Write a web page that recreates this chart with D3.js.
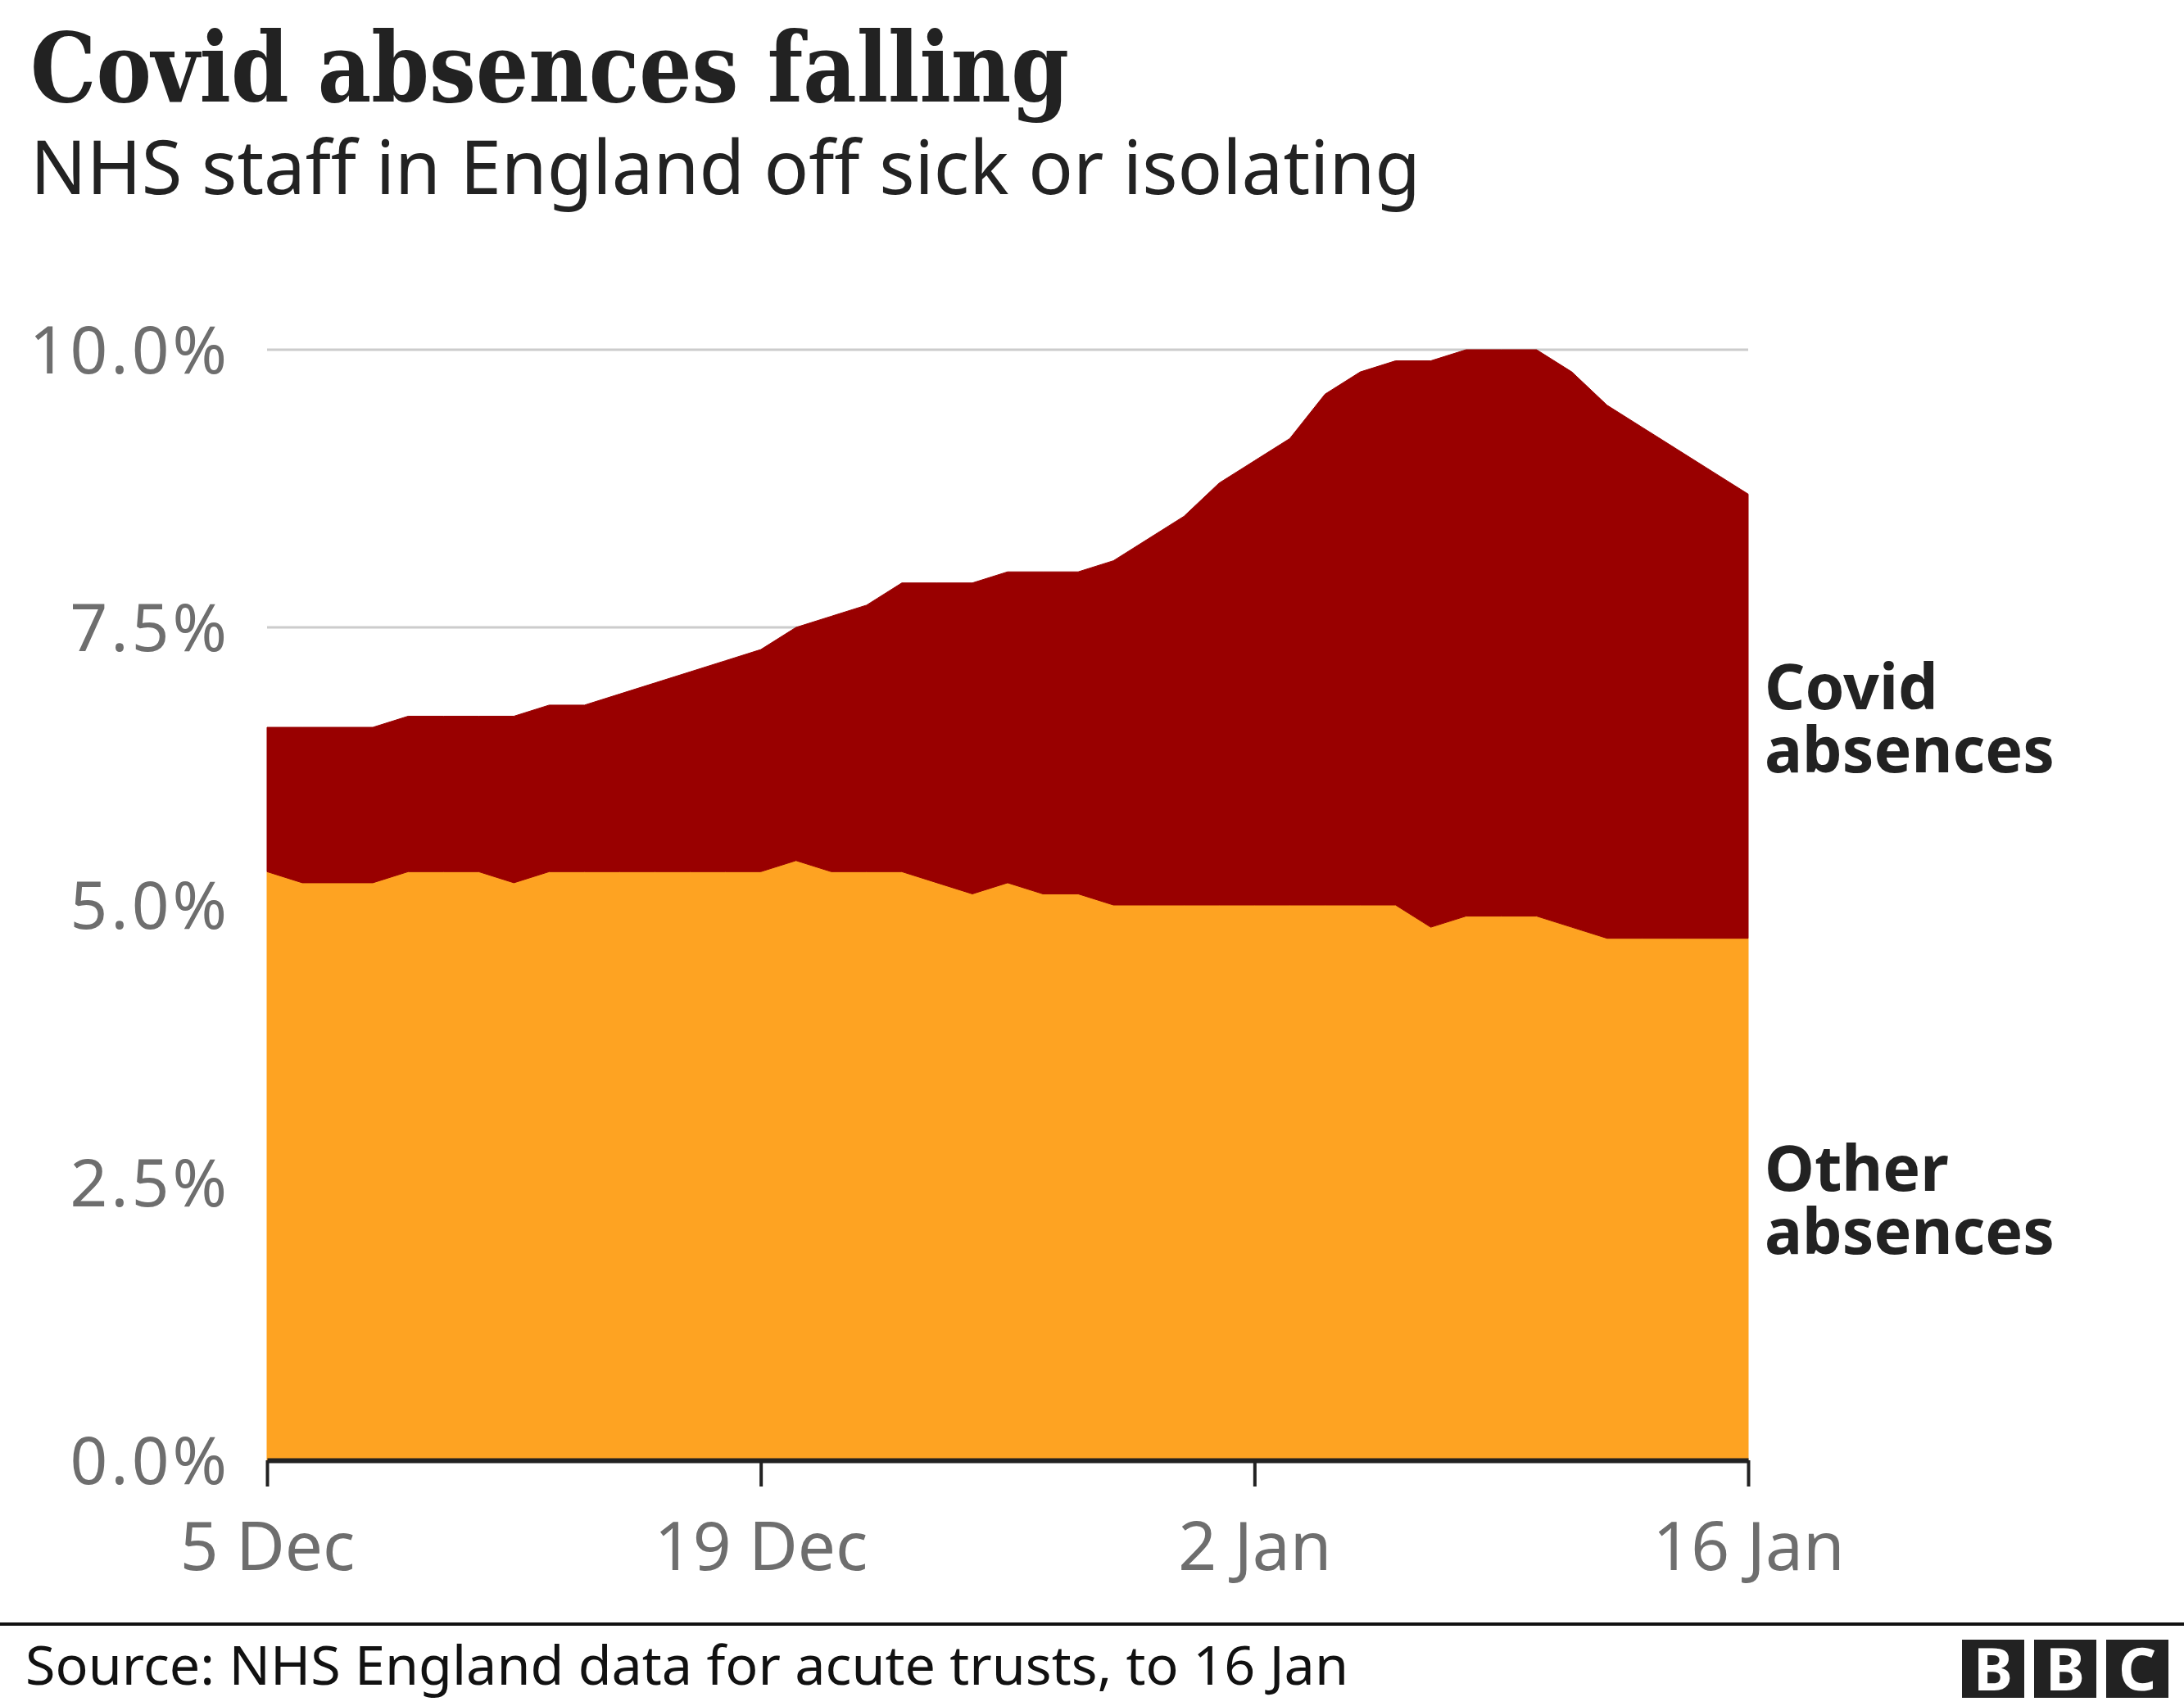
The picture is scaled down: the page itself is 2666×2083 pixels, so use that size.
<!DOCTYPE html>
<html>
<head>
<meta charset="utf-8">
<script src="https://cdn.jsdelivr.net/npm/d3@7"></script>
<style>
  html, body { margin: 0; padding: 0; background: #ffffff; }
  svg { display: block; }
</style>
</head>
<body>
<svg id="chart" width="2666" height="2083"></svg>
<script>
// ---------------- DATA ----------------
const startDate = new Date(2021, 11, 5);   // 5 Dec 2021
const endDate = new Date(2022, 0, 16);     // 16 Jan 2022

// Other (non-Covid) absences, % of staff, daily 5 Dec – 16 Jan
const otherAbsences = [5.3,5.2,5.2,5.2,5.3,5.3,5.3,5.2,5.3,5.3,5.3,5.3,5.3,5.3,5.3,5.4,5.3,5.3,5.3,5.2,5.1,5.2,5.1,5.1,5.0,5.0,5.0,5.0,5.0,5.0,5.0,5.0,5.0,4.8,4.9,4.9,4.9,4.8,4.7,4.7,4.7,4.7,4.7];
// Covid absences, % of staff, daily 5 Dec – 16 Jan
const covidAbsences = [1.3,1.4,1.4,1.4,1.4,1.4,1.4,1.5,1.5,1.5,1.6,1.7,1.8,1.9,2.0,2.1,2.3,2.4,2.6,2.7,2.8,2.8,2.9,2.9,3.1,3.3,3.5,3.8,4.0,4.2,4.6,4.8,4.9,5.1,5.1,5.1,5.1,5.0,4.8,4.6,4.4,4.2,4.0];

const seriesKeys = ["other", "covid"];
const seriesColors = { other: "#fea322", covid: "#990000" };
const seriesLabels = { covid: ["Covid", "absences"], other: ["Other", "absences"] };
const seriesLabelY = { covid: 866, other: 1454 };

const yTicks = [0, 2.5, 5, 7.5, 10];
const xTickDates = [new Date(2021, 11, 5), new Date(2021, 11, 19), new Date(2022, 0, 2), new Date(2022, 0, 16)];
const xTickLabels = ["5 Dec", "19 Dec", "2 Jan", "16 Jan"];

const titleText = "Covid absences falling";
const subtitleText = "NHS staff in England off sick or isolating";
const sourceText = "Source: NHS England data for acute trusts, to 16 Jan";

// ---------------- BUILD ----------------
const dates = d3.timeDay.range(startDate, d3.timeDay.offset(endDate, 1));
const rows = dates.map((d, i) => ({ date: d, other: otherAbsences[i], covid: covidAbsences[i] }));

const svg = d3.select("#chart");
const W = 2666, H = 2083;
const plot = { left: 326, right: 2134, top: 427, bottom: 1783 };

const x = d3.scaleTime().domain([startDate, endDate]).range([plot.left, plot.right]);
const y = d3.scaleLinear().domain([0, 10]).range([plot.bottom, plot.top]);

const sans = "'Noto Sans', 'Open Sans', 'DejaVu Sans', sans-serif";

// Title
svg.append("text")
  .attr("x", 37).attr("y", 124)
  .attr("font-family", "'DejaVu Serif', 'Liberation Serif', serif")
  .attr("font-weight", "bold")
  .attr("font-size", 117)
  .attr("fill", "#222222")
  .attr("textLength", 1268)
  .attr("lengthAdjust", "spacingAndGlyphs")
  .text(titleText);

// Subtitle
svg.append("text")
  .attr("x", 37).attr("y", 237)
  .attr("font-family", sans)
  .attr("font-size", 91)
  .attr("fill", "#222222")
  .attr("textLength", 1697)
  .attr("lengthAdjust", "spacingAndGlyphs")
  .text(subtitleText);

// Gridlines
svg.append("g")
  .selectAll("line")
  .data(yTicks.filter(t => t > 0))
  .join("line")
  .attr("x1", plot.left).attr("x2", plot.right)
  .attr("y1", d => y(d)).attr("y2", d => y(d))
  .attr("stroke", "#cccccc")
  .attr("stroke-width", 3);

// Y axis labels
svg.append("g")
  .selectAll("text")
  .data(yTicks)
  .join("text")
  .attr("x", 281)
  .attr("y", d => y(d))
  .attr("dy", "0.36em")
  .attr("text-anchor", "end")
  .attr("font-family", sans)
  .attr("font-size", 80)
  .attr("letter-spacing", 4)
  .attr("fill", "#6e6e6e")
  .text(d => d.toFixed(1) + "%");

// Stacked areas
const stack = d3.stack().keys(seriesKeys);
const stacked = stack(rows);
const area = d3.area()
  .x(d => x(d.data.date))
  .y0(d => y(d[0]))
  .y1(d => y(d[1]))
  .curve(d3.curveLinear);

svg.append("g")
  .selectAll("path")
  .data(stacked)
  .join("path")
  .attr("d", area)
  .attr("fill", d => seriesColors[d.key])
  .attr("stroke", d => seriesColors[d.key])
  .attr("stroke-width", 1);

// X axis
const xAxis = d3.axisBottom(x)
  .tickValues(xTickDates)
  .tickFormat((d, i) => xTickLabels[i])
  .tickSize(32)
  .tickSizeOuter(0)
  .tickPadding(44);

const gx = svg.append("g")
  .attr("transform", `translate(0,${plot.bottom})`)
  .call(xAxis);
gx.select(".domain").attr("stroke", "#222222").attr("stroke-width", 6);
gx.selectAll(".tick line").attr("stroke", "#222222").attr("stroke-width", 4);
gx.selectAll(".tick text")
  .attr("font-family", sans)
  .attr("font-size", 82)
  .attr("fill", "#6e6e6e");

// Series labels
seriesKeys.forEach(k => {
  const t = svg.append("text")
    .attr("x", 2154)
    .attr("y", seriesLabelY[k])
    .attr("font-family", sans)
    .attr("font-weight", "bold")
    .attr("font-size", 77)
    .attr("fill", "#222222");
  seriesLabels[k].forEach((line, i) => {
    t.append("tspan").attr("x", 2154).attr("dy", i === 0 ? 0 : 77).text(line);
  });
});

// Footer rule
svg.append("line")
  .attr("x1", 0).attr("x2", W)
  .attr("y1", 1983).attr("y2", 1983)
  .attr("stroke", "#111111")
  .attr("stroke-width", 4);

// Source
svg.append("text")
  .attr("x", 31).attr("y", 2057)
  .attr("font-family", sans)
  .attr("font-size", 66)
  .attr("fill", "#111111")
  .attr("textLength", 1615)
  .attr("lengthAdjust", "spacingAndGlyphs")
  .text(sourceText);

// BBC logo
const logoLetters = ["B", "B", "C"];
const logo = svg.append("g");
logo.selectAll("rect")
  .data(logoLetters)
  .join("rect")
  .attr("x", (d, i) => 2395 + i * 88)
  .attr("y", 2002)
  .attr("width", 76)
  .attr("height", 71)
  .attr("fill", "#222222");
logo.selectAll("text")
  .data(logoLetters)
  .join("text")
  .attr("x", (d, i) => 2395 + i * 88 + 38)
  .attr("y", 2064)
  .attr("text-anchor", "middle")
  .attr("font-family", sans)
  .attr("font-weight", "bold")
  .attr("font-size", 72)
  .attr("fill", "#ffffff")
  .text(d => d);
</script>
</body>
</html>
